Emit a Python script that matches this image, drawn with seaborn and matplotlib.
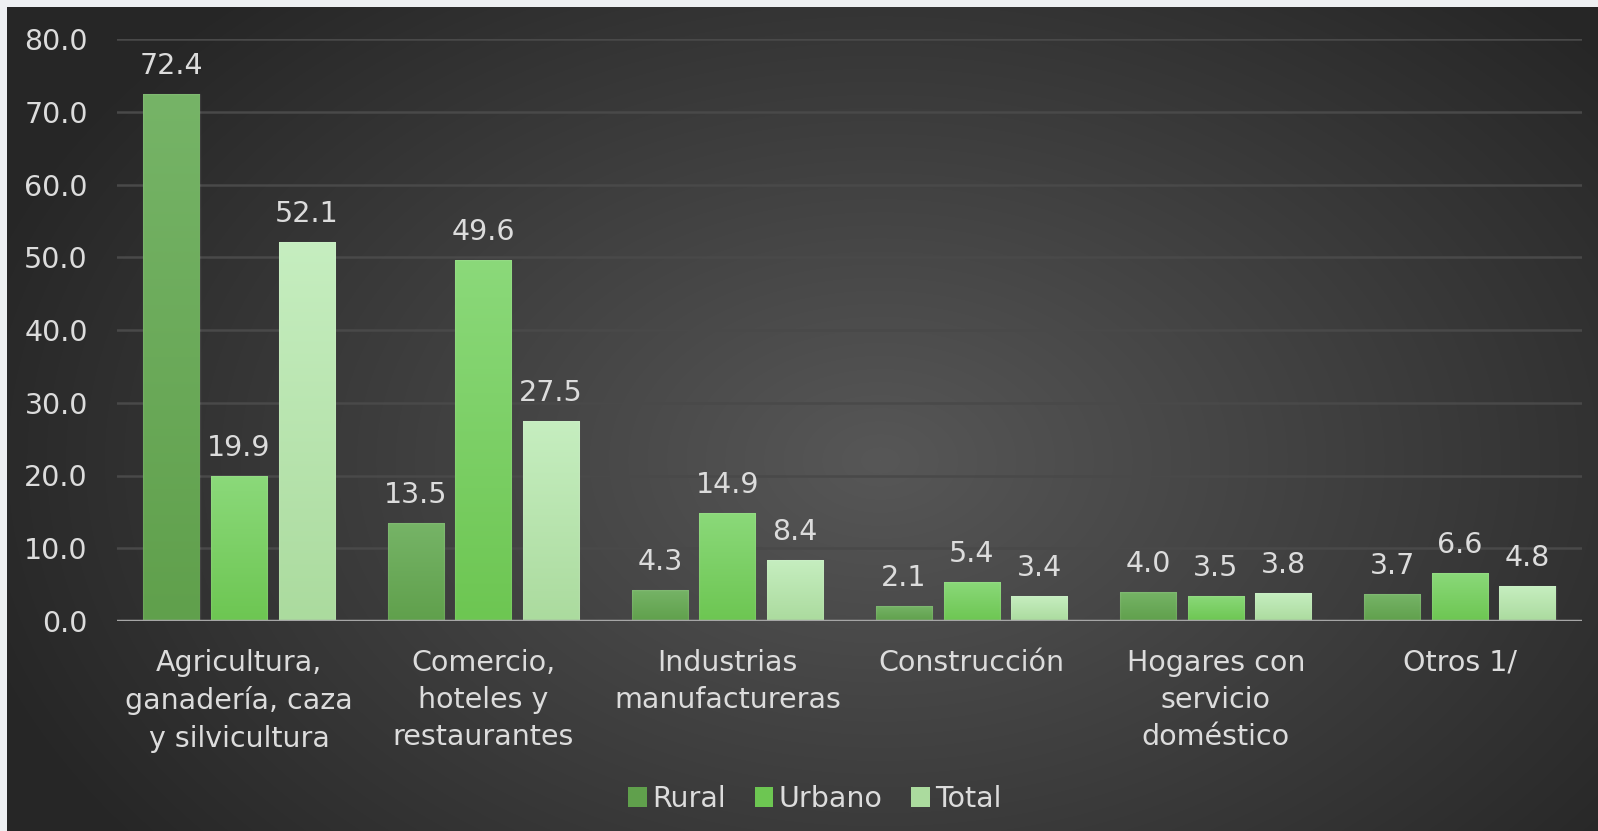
import numpy as np
import pandas as pd
import matplotlib
matplotlib.use('Agg')
import matplotlib.pyplot as plt
from matplotlib.colors import to_rgb
from matplotlib.patches import Patch
import seaborn as sns

# Data
categories = [
    'Agricultura,\nganadería, caza\ny silvicultura',
    'Comercio,\nhoteles y\nrestaurantes',
    'Industrias\nmanufactureras',
    'Construcción',
    'Hogares con\nservicio\ndoméstico',
    'Otros 1/',
]
series = ['Rural', 'Urbano', 'Total']
rural = [72.4, 13.5, 4.3, 2.1, 4.0, 3.7]
urbano = [19.9, 49.6, 14.9, 5.4, 3.5, 6.6]
total = [52.1, 27.5, 8.4, 3.4, 3.8, 4.8]
y_ticks = [0, 10, 20, 30, 40, 50, 60, 70, 80]

# bar colours (top, bottom) for gradient
top_colors = {'Rural': '#76b467', 'Urbano': '#8bd97a', 'Total': '#c6eec0'}
bottom_colors = {'Rural': '#60a04c', 'Urbano': '#6dc652', 'Total': '#abdb9e'}
text_color = '#dcdcdc'
fs = 20.5

df = pd.DataFrame({
    'categoria': categories * 3,
    'serie': ['Rural'] * 6 + ['Urbano'] * 6 + ['Total'] * 6,
    'valor': rural + urbano + total,
})

W, H = 1598, 831
fig = plt.figure(figsize=(W / 100, H / 100), dpi=100)

# Background: radial gradient with a light screenshot border top/left
yy, xx = np.mgrid[0:H, 0:W]
r = np.sqrt(((xx - 880) / 950.0) ** 2 + ((yy - 460) / 640.0) ** 2)
r = np.clip(r, 0, 1)
c_in = np.array(to_rgb('#575757'))
c_out = np.array(to_rgb('#262626'))
bg = c_in[None, None, :] * (1 - r[..., None]) + c_out[None, None, :] * r[..., None]
bg[:7, :, :] = to_rgb('#eef0f2')
bg[:, :7, :] = to_rgb('#eef0f2')
bg_ax = fig.add_axes([0, 0, 1, 1], zorder=-1)
bg_ax.imshow(bg, aspect='auto', interpolation='bilinear')
bg_ax.axis('off')

ax = fig.add_axes([117 / W, 1 - 621 / H, (1582 - 117) / W, (621 - 39) / H])
ax.set_facecolor('none')

sns.barplot(
    data=df, x='categoria', y='valor', hue='serie',
    hue_order=series, order=categories,
    palette=[top_colors[s] for s in series],
    width=0.83, gap=0.17, ax=ax, legend=False, zorder=3,
)

# Gradient fill for each bar
for container, s in zip(ax.containers, series):
    grad = np.linspace(0, 1, 256)[:, None, None]
    ct = np.array(to_rgb(top_colors[s]))
    cb = np.array(to_rgb(bottom_colors[s]))
    img = ct * (1 - grad) + cb * grad
    for bar in container:
        x0 = bar.get_x()
        w = bar.get_width()
        h = bar.get_height()
        bar.set_facecolor('none')
        bar.set_edgecolor((1, 1, 1, 0.08))
        bar.set_linewidth(1)
        im = ax.imshow(img, extent=(x0, x0 + w, 0, h), aspect='auto',
                       origin='upper', zorder=2.5)
        im.set_clip_path(bar)
    ax.bar_label(container, fmt='%.1f', padding=10, color=text_color, fontsize=fs)

ax.set_xlim(-0.5, len(categories) - 0.5)
ax.set_ylim(0, 80)
ax.set_yticks(y_ticks)
ax.set_yticklabels([f'{v:.1f}' for v in y_ticks])
ax.yaxis.grid(True, color='#494949', linewidth=1.8)
ax.set_axisbelow(True)
ax.axhline(0, color='#a6a6a6', linewidth=2.5, zorder=4)

for spine in ax.spines.values():
    spine.set_visible(False)
ax.tick_params(axis='both', length=0, colors=text_color, labelsize=fs)
ax.tick_params(axis='y', pad=21)
ax.tick_params(axis='x', pad=20)
for lbl in ax.get_xticklabels():
    lbl.set_linespacing(1.42)
ax.set_xlabel('')
ax.set_ylabel('')

handles = [Patch(facecolor=bottom_colors[s], edgecolor='none') for s in series]
fig.legend(handles, series, loc='center', bbox_to_anchor=(815 / W, 1 - 799 / H),
           ncol=3, frameon=False, fontsize=fs, labelcolor=text_color,
           handlelength=0.65, handleheight=0.65, handletextpad=0.2,
           columnspacing=1.0)

fig.savefig('out.png', dpi=100)
